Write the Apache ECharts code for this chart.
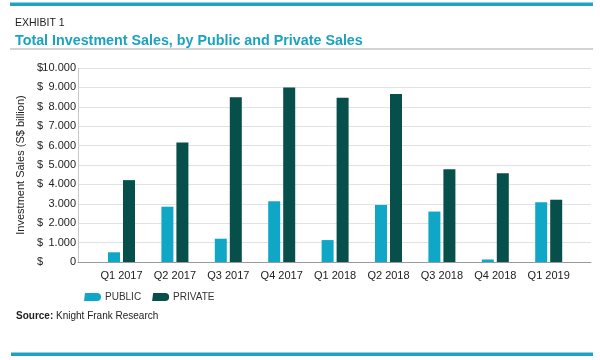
<!DOCTYPE html>
<html>
<head>
<meta charset="utf-8">
<script src="https://cdn.jsdelivr.net/npm/echarts@6/dist/echarts.min.js"></script>
<style>
html,body{margin:0;padding:0;background:#fff;}
#chart{width:600px;height:360px;}
</style>
</head>
<body>
<div id="chart"></div>
<script>
var categories = ['Q1 2017','Q2 2017','Q3 2017','Q4 2017','Q1 2018','Q2 2018','Q3 2018','Q4 2018','Q1 2019'];
var publicSales = [500, 2850, 1200, 3130, 1130, 2940, 2600, 130, 3080];
var privateSales = [4220, 6160, 8490, 9000, 8470, 8660, 4780, 4570, 3210];
var yTickLabels = ['$ 0','$ 1.000','$ 2.000','3.000','$ 4.000','$ 5.000','$ 6.000','$ 7.000','$ 8.000','$ 9.000','$10.000'];

var FONT = '"Liberation Sans", Arial, Helvetica, sans-serif';
var chart = echarts.init(document.getElementById('chart'), null, {renderer:'canvas'});

function yLabel(value){
  var idx = Math.round(value / 1000);
  var s = yTickLabels[idx] || '';
  var d = ' ', n = s;
  if (s.charAt(0) === '$') { d = '$'; n = s.slice(1).trim(); }
  return '{d|' + d + '}{n|' + n + '}';
}

var option = {
  animation: false,
  textStyle: {fontFamily: FONT},
  title: [
    {text: 'EXHIBIT 1', left: 10, top: 13, textStyle: {fontFamily: FONT, fontSize: 10.5, fontWeight: 'normal', color: '#222'}},
    {text: 'Total Investment Sales, by Public and Private Sales', left: 10, top: 29, textStyle: {fontFamily: FONT, fontSize: 14.3, fontWeight: 'bold', color: '#1aa3c1'}},
    {text: '{b|Source:} Knight Frank Research', left: 11, top: 306, textStyle: {fontFamily: FONT, fontSize: 10, fontWeight: 'normal', color: '#222', rich: {b: {fontFamily: FONT, fontSize: 10, fontWeight: 'bold', color: '#222'}}}}
  ],
  graphic: [
    {type: 'rect', shape: {x: 10, y: 2.5, width: 583, height: 3.5}, style: {fill: '#1ea3c1'}, silent: true},
    {type: 'rect', shape: {x: 10, y: 48.5, width: 583, height: 1}, style: {fill: '#a8a8a8'}, silent: true},
    {type: 'rect', shape: {x: 11, y: 352.5, width: 582, height: 3.5}, style: {fill: '#1ea3c1'}, silent: true}
  ],
  legend: {
    left: 79, top: 287,
    itemWidth: 17, itemHeight: 8, itemGap: 11,
    icon: 'path://M1,0 L13,0 Q17,0 17,4 Q17,8 13,8 L0,8 Z',
    textStyle: {fontFamily: FONT, fontSize: 10, color: '#333', padding: [0,0,0,-1]},
    data: ['PUBLIC','PRIVATE']
  },
  grid: [
    {left: 78, right: 9, top: 68, bottom: 98},
    {left: 94.8, right: 24.6, top: 68, bottom: 98}
  ],
  xAxis: [
    {type: 'category', gridIndex: 0, data: categories,
     axisLine: {show: true, lineStyle: {color: '#9a9a9a', width: 1}},
     axisTick: {show: false}, axisLabel: {show: false}},
    {type: 'category', gridIndex: 1, data: categories,
     axisLine: {show: false}, axisTick: {show: false},
     axisLabel: {interval: 0, fontFamily: FONT, fontSize: 11, color: '#222', margin: 8}}
  ],
  yAxis: [
    {type: 'value', gridIndex: 0, min: 0, max: 10000, interval: 1000,
     name: 'Investment Sales (S$ billion)', nameLocation: 'middle', nameGap: 52, nameRotate: 90,
     nameTextStyle: {fontFamily: FONT, fontSize: 11, color: '#222'},
     axisLine: {show: true, lineStyle: {color: '#c8c8c8'}},
     axisTick: {show: false},
     splitLine: {show: true, lineStyle: {color: '#e2e2e2', width: 1}},
     axisLabel: {margin: 2, formatter: yLabel,
       rich: {
         d: {fontFamily: FONT, fontSize: 11, color: '#222', width: 6, align: 'left'},
         n: {fontFamily: FONT, fontSize: 11, color: '#222', width: 33, align: 'right'}
       }}},
    {type: 'value', gridIndex: 1, min: 0, max: 10000, interval: 1000, show: false,
     splitLine: {show: false}}
  ],
  series: [
    {name: 'PUBLIC', type: 'bar', xAxisIndex: 1, yAxisIndex: 1, data: publicSales,
     barWidth: 12, barGap: '25%', itemStyle: {color: '#10a7c7'}},
    {name: 'PRIVATE', type: 'bar', xAxisIndex: 1, yAxisIndex: 1, data: privateSales,
     barWidth: 12, barGap: '25%', itemStyle: {color: '#074f4a'}}
  ]
};
chart.setOption(option);
</script>
</body>
</html>
